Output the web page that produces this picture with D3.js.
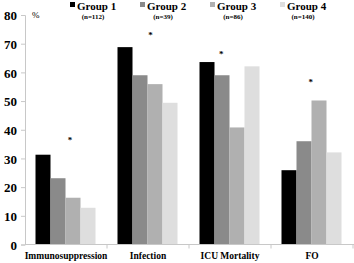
<!DOCTYPE html>
<html><head><meta charset="utf-8">
<script src="https://cdn.jsdelivr.net/npm/d3@7"></script>
<style>body{margin:0;background:#fff}svg{display:block}</style>
</head><body>
<svg id="c" width="354" height="263"></svg>
<script>
const categories = ["Immunosuppression", "Infection", "ICU Mortality", "FO"];
const groups = ["Group 1", "Group 2", "Group 3", "Group 4"];
const groupN = ["(n=112)", "(n=39)", "(n=86)", "(n=140)"];
const group1 = [31.3, 68.8, 63.6, 25.9];
const group2 = [23.1, 59.0, 59.0, 36.0];
const group3 = [16.3, 55.9, 40.8, 50.2];
const group4 = [12.8, 49.4, 62.1, 32.1];
const starValues = [36.9, 73.4, 66.7, 57.1];
const yTicks = [0, 10, 20, 30, 40, 50, 60, 70, 80];

const series = [group1, group2, group3, group4];
const colors = ["#000000", "#8a8a8a", "#b0b0b0", "#dedede"];
const starShift = [2.3, 2.2, 1.45, 1.95]; // in bar widths from group start

const svg = d3.select("#c");
const serif = "'Liberation Serif','Times New Roman',serif";

const x0 = d3.scaleBand().domain(categories).range([25, 353]).padding(0);
const x1 = d3.scaleBand().domain(groups).range([10.5, 70.5]).padding(0);
const y = d3.scaleLinear().domain([0, 80]).range([244.5, 15]);

// axes
const yAxis = svg.append("g").attr("transform", "translate(25,0)")
  .call(d3.axisLeft(y).tickValues(yTicks).tickSize(4).tickPadding(4));
yAxis.select(".domain").attr("stroke", "#c8c8c8");
yAxis.selectAll(".tick line").attr("stroke", "#c8c8c8");
yAxis.selectAll(".tick text").attr("font-family", serif).attr("font-weight", "bold")
  .attr("font-size", 13).attr("fill", "#000").attr("x", -8).attr("dy", "0.36em");

// bars
const g = svg.append("g");
categories.forEach((c, ci) => {
  series.forEach((s, si) => {
    g.append("rect")
      .attr("x", x0(c) + x1(groups[si]))
      .attr("y", y(s[ci]))
      .attr("width", x1.bandwidth())
      .attr("height", y(0) - y(s[ci]))
      .attr("fill", colors[si]);
  });
  svg.append("text")
    .attr("x", x0(c) + x1.range()[0] + starShift[ci] * x1.bandwidth())
    .attr("y", y(starValues[ci]) + 4)
    .attr("text-anchor", "middle")
    .attr("font-family", serif).attr("font-weight", "bold").attr("font-size", 9)
    .text("*");
});

const xAxis = svg.append("g").attr("transform", "translate(0,244.5)");
xAxis.append("line").attr("x1", 25).attr("x2", 354).attr("stroke", "#c8c8c8");
categories.forEach((c, ci) => {
  xAxis.append("line").attr("x1", x0(c) + x0.bandwidth()).attr("x2", x0(c) + x0.bandwidth())
    .attr("y1", 0).attr("y2", 4).attr("stroke", "#c8c8c8");
  xAxis.append("text").attr("x", x0(c) + x0.bandwidth() / 2).attr("y", 14.5)
    .attr("text-anchor", "middle").attr("font-family", serif).attr("font-weight", "bold")
    .attr("font-size", 9.5).text(c);
});

svg.append("text").attr("x", 32).attr("y", 18).attr("font-family", serif)
  .attr("font-size", 9).text("%");

// legend
groups.forEach((gname, i) => {
  const lx = 70 + i * 70;
  svg.append("rect").attr("x", lx).attr("y", 2).attr("width", 5).attr("height", 5).attr("fill", colors[i]);
  svg.append("text").attr("x", lx + 7).attr("y", 9.5).attr("font-family", serif)
    .attr("font-weight", "bold").attr("font-size", 11).text(gname);
  svg.append("text").attr("x", lx + 23).attr("y", 19).attr("text-anchor", "middle")
    .attr("font-family", serif).attr("font-weight", "bold").attr("font-size", 7).text(groupN[i]);
});
</script>
</body></html>
